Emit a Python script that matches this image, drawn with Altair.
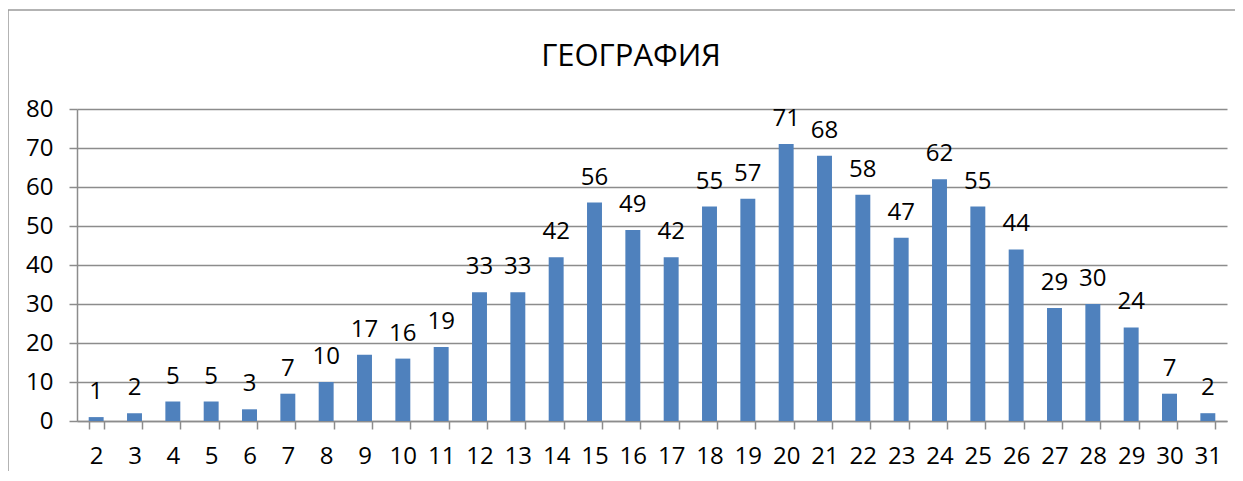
import altair as alt
import pandas as pd

categories = [str(i) for i in range(2, 32)]
values = [1, 2, 5, 5, 3, 7, 10, 17, 16, 19,
          33, 33, 42, 56, 49, 42, 55, 57, 71, 68,
          58, 47, 62, 55, 44, 29, 30, 24, 7, 2]
title_text = "ГЕОГРАФИЯ"
y_ticks = [0, 10, 20, 30, 40, 50, 60, 70, 80]

df = pd.DataFrame({"cat": categories, "val": values})
tdf = pd.DataFrame({"t": [title_text]})

FONT = "Open Sans"
GRAY = "#8c8c8c"
FS = 24

x_enc = alt.X("cat:N", sort=categories, title=None,
              scale=alt.Scale(paddingInner=0.61, paddingOuter=0.305),
              axis=alt.Axis(labelAngle=0, labelFontSize=FS, labelFont=FONT,
                            labelColor="#000000", labelPadding=15,
                            tickBand="extent", tickSize=8, tickColor=GRAY,
                            tickWidth=1.5, domainColor=GRAY, domainWidth=1.5,
                            grid=False))
y_enc = alt.Y("val:Q", title=None,
              scale=alt.Scale(domain=[0, 80], nice=False),
              axis=alt.Axis(values=y_ticks, labelFontSize=FS, labelFont=FONT,
                            labelColor="#000000", labelPadding=16,
                            labelOverlap=False,
                            tickSize=8, tickColor=GRAY, tickWidth=1.5,
                            domainColor=GRAY, domainWidth=1.5,
                            gridColor=GRAY, gridWidth=1.5))

base = alt.Chart(df)
bars = base.mark_bar(color="#4F81BD").encode(x=x_enc, y=y_enc)
labels = base.mark_text(baseline="alphabetic", dy=-18, fontSize=FS,
                        font=FONT, color="#000000").encode(
    x=x_enc, y=y_enc, text="val:Q")

title_mark = alt.Chart(tdf).mark_text(
    fontSize=31, font=FONT, color="#000000", align="center",
    baseline="alphabetic").encode(
    text="t:N", x=alt.value(554), y=alt.value(-43))

border_left = alt.Chart(tdf).mark_rule(color="#9a9a9a", strokeWidth=1.5).encode(
    x=alt.value(-69), y=alt.value(-99), y2=alt.value(380))
border_top = alt.Chart(tdf).mark_rule(color="#9a9a9a", strokeWidth=1.5).encode(
    x=alt.value(-69), x2=alt.value(1170), y=alt.value(-99))

chart = alt.layer(bars, labels, title_mark, border_left, border_top).properties(
    width=1150, height=312,
    autosize=alt.AutoSizeParams(type="none"),
    padding={"left": 69, "top": 101, "right": 8, "bottom": 50},
).configure_view(stroke=None)

chart.save("out.html", embed_options={"renderer": "svg", "actions": False})
